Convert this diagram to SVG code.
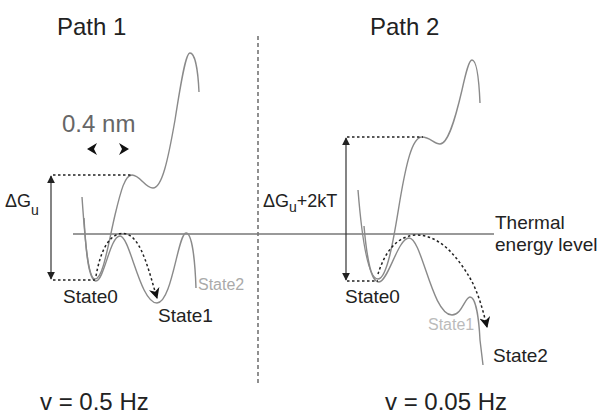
<svg xmlns="http://www.w3.org/2000/svg" width="600" height="417" viewBox="0 0 600 417">
<style>
text{font-family:"Liberation Sans",Arial,sans-serif}
.t{fill:#222}
.curve{fill:none;stroke:#8a8a8a;stroke-width:1.4}
.thermal{fill:none;stroke:#777;stroke-width:1.5}
.dim{fill:none;stroke:#333;stroke-width:1.2;marker-start:url(#ah);marker-end:url(#ah)}
.dot{fill:none;stroke:#222;stroke-width:1.5;stroke-dasharray:2.5 2.5}
.trans{fill:none;stroke:#222;stroke-width:1.5;stroke-dasharray:2.5 2.5;marker-end:url(#ad)}
.div{fill:none;stroke:#555;stroke-width:1.3;stroke-dasharray:4 3}
</style>
<defs>
<marker id="ah" viewBox="0 0 10 10" refX="9" refY="5" markerWidth="8" markerHeight="8" markerUnits="userSpaceOnUse" orient="auto-start-reverse">
<path d="M0,0 L10,5 L0,10 z" fill="#222"/>
</marker>
<marker id="ad" viewBox="0 0 10 10" refX="9" refY="5" markerWidth="11" markerHeight="11" markerUnits="userSpaceOnUse" orient="auto">
<path d="M0,0 L10,5 L0,10 L3,5 z" fill="#111"/>
</marker>
</defs>
<rect width="600" height="417" fill="#fff"/>

<g id="divider"><line class="div" x1="258" y1="36" x2="258" y2="385"/></g>

<g id="thermal-line"><line class="thermal" x1="73" y1="234" x2="494" y2="234"/></g>

<g id="path1">
<text class="t" x="57" y="35" font-size="24">Path 1</text>
<text x="62" y="132" font-size="24" fill="#666">0.4 nm</text>
<polygon points="87,149 97,143 94,149 97,155" fill="#111"/>
<polygon points="129,149 119,143 122,149 119,155" fill="#111"/>
<path class="curve" d="M82,197 C85,240 88,279 95,279 C103,279 108,245 115,215 C121,190 125,175 132,175 C140,175 145,188 153,188 C162,188 168,160 175,120 C182,75 186,53 190,53 C195,53 198,70 199,92"/>
<path class="curve" d="M84,218 C86,255 89,281 96,281 C104,281 110,236 120,236 C130,236 140,303 157,303 C172,303 178,233 186,233 C192,233 195,260 196,288"/>
<text class="t" x="5" y="207" font-size="18">ΔG<tspan font-size="14" dy="8">u</tspan></text>
<text class="t" x="63" y="303" font-size="19">State0</text>
<text class="t" x="158" y="322" font-size="19">State1</text>
<text x="198" y="290" font-size="16" fill="#aaa">State2</text>
<text class="t" x="40" y="410" font-size="24">v = 0.5 Hz</text>
</g>

<g id="path2">
<text class="t" x="370" y="35" font-size="24">Path 2</text>
<path class="curve" d="M358,190 C362,240 368,279 378,279 C388,279 395,230 400,200 C406,165 412,137 422,137 C430,137 434,144 440,144 C448,144 455,120 462,90 C466,72 469,60 472,60 C477,60 479,80 480,103"/>
<path class="curve" d="M364,226 C367,260 371,282 379,282 C388,282 398,238 409,238 C422,238 432,315 452,315 C462,315 465,297 470,297 C476,297 479,320 480,340 L483,365"/>
<text class="t" x="263" y="207" font-size="18">ΔG<tspan font-size="14" dy="5">u</tspan><tspan dy="-5">+2kT</tspan></text>
<text class="t" x="345" y="303" font-size="19">State0</text>
<text x="428" y="330" font-size="16" fill="#bbb">State1</text>
<text class="t" x="493" y="362" font-size="19">State2</text>
<text class="t" x="495" y="229" font-size="19">Thermal</text>
<text class="t" x="495" y="251" font-size="19">energy level</text>
<text class="t" x="385" y="410" font-size="24">v = 0.05 Hz</text>
</g>

<g id="connectors">
<line class="dot" x1="53" y1="175" x2="132" y2="175"/>
<line class="dot" x1="53" y1="280" x2="95" y2="280"/>
<line class="dim" x1="51" y1="176" x2="51" y2="279"/>
<path class="trans" d="M96,276 C99,260 104,240 118,234 C132,230 140,245 146,262 C150,273 153,285 157,298"/>
<line class="dot" x1="347" y1="137" x2="423" y2="137"/>
<line class="dot" x1="347" y1="281" x2="378" y2="281"/>
<line class="dim" x1="346" y1="138" x2="346" y2="280"/>
<path class="trans" d="M378,274 C383,258 393,237 415,235 C440,234 458,258 470,278 C478,292 483,310 487,327"/>
</g>
</svg>
